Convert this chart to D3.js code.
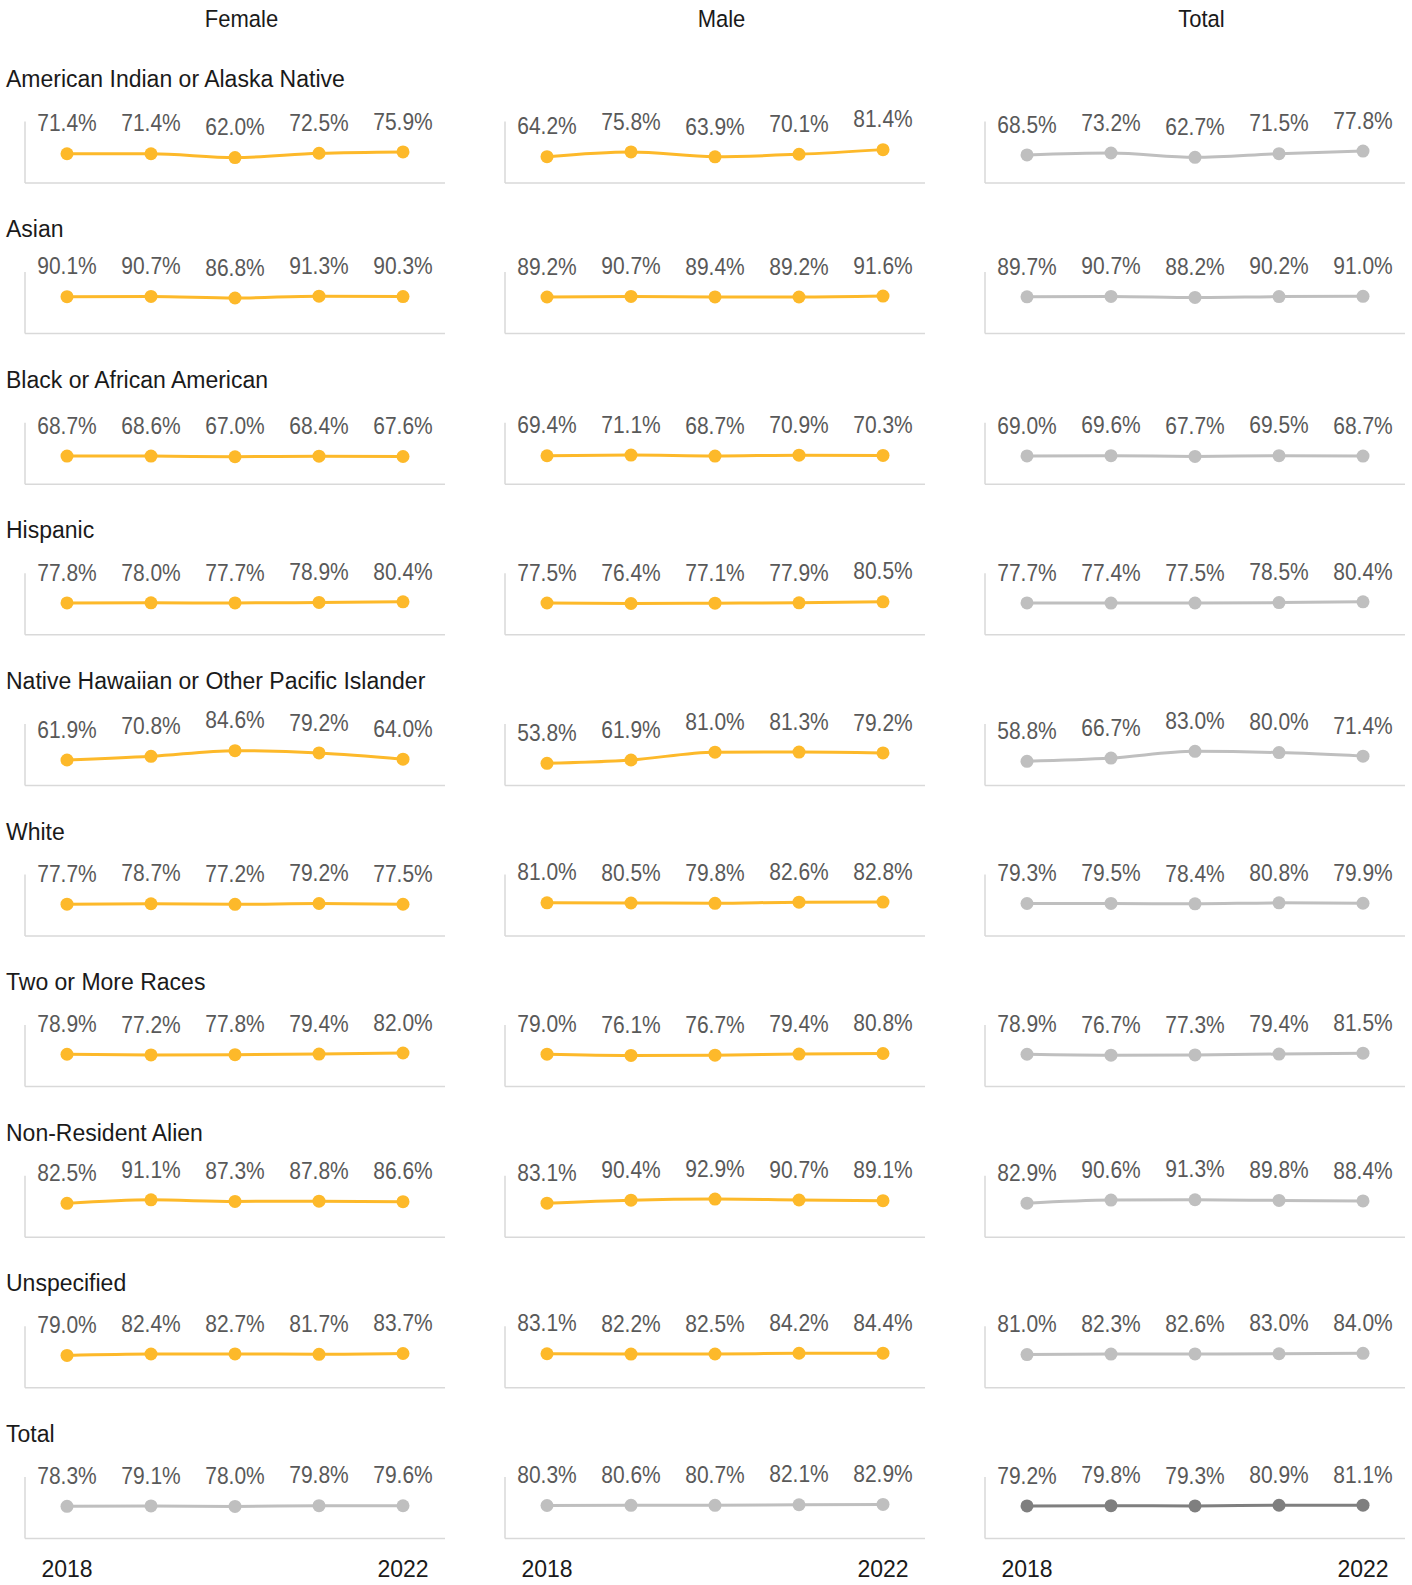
<!DOCTYPE html>
<html>
<head>
<meta charset="utf-8">
<script src="https://cdn.jsdelivr.net/npm/d3@7"></script>
<style>
  html, body { margin: 0; padding: 0; background: #fff; }
  svg { display: block; }
  text { font-family: "Liberation Sans", Arial, sans-serif; }
</style>
</head>
<body>
<svg id="chart" width="1412" height="1585"></svg>
<script>
// ---------- data ----------
const years = [2018, 2019, 2020, 2021, 2022];
const yearTicks = [2018, 2022];
const columns = ["Female", "Male", "Total"];
const categories = [
  "American Indian or Alaska Native",
  "Asian",
  "Black or African American",
  "Hispanic",
  "Native Hawaiian or Other Pacific Islander",
  "White",
  "Two or More Races",
  "Non-Resident Alien",
  "Unspecified",
  "Total"
];
const female = [
  [71.4, 71.4, 62.0, 72.5, 75.9],
  [90.1, 90.7, 86.8, 91.3, 90.3],
  [68.7, 68.6, 67.0, 68.4, 67.6],
  [77.8, 78.0, 77.7, 78.9, 80.4],
  [61.9, 70.8, 84.6, 79.2, 64.0],
  [77.7, 78.7, 77.2, 79.2, 77.5],
  [78.9, 77.2, 77.8, 79.4, 82.0],
  [82.5, 91.1, 87.3, 87.8, 86.6],
  [79.0, 82.4, 82.7, 81.7, 83.7],
  [78.3, 79.1, 78.0, 79.8, 79.6]
];
const male = [
  [64.2, 75.8, 63.9, 70.1, 81.4],
  [89.2, 90.7, 89.4, 89.2, 91.6],
  [69.4, 71.1, 68.7, 70.9, 70.3],
  [77.5, 76.4, 77.1, 77.9, 80.5],
  [53.8, 61.9, 81.0, 81.3, 79.2],
  [81.0, 80.5, 79.8, 82.6, 82.8],
  [79.0, 76.1, 76.7, 79.4, 80.8],
  [83.1, 90.4, 92.9, 90.7, 89.1],
  [83.1, 82.2, 82.5, 84.2, 84.4],
  [80.3, 80.6, 80.7, 82.1, 82.9]
];
const total = [
  [68.5, 73.2, 62.7, 71.5, 77.8],
  [89.7, 90.7, 88.2, 90.2, 91.0],
  [69.0, 69.6, 67.7, 69.5, 68.7],
  [77.7, 77.4, 77.5, 78.5, 80.4],
  [58.8, 66.7, 83.0, 80.0, 71.4],
  [79.3, 79.5, 78.4, 80.8, 79.9],
  [78.9, 76.7, 77.3, 79.4, 81.5],
  [82.9, 90.6, 91.3, 89.8, 88.4],
  [81.0, 82.3, 82.6, 83.0, 84.0],
  [79.2, 79.8, 79.3, 80.9, 81.1]
];
const seriesByColumn = [female, male, total];

// ---------- layout ----------
const colX0 = [25, 505, 985];
const panelW = 420;
const firstBaseline = 183;
const rowStep = 150.6;
const plotH = 61.5;
const ORANGE = "#FDB92A", GRAY = "#BFBFBF", DARK = "#7F7F7F", AXIS = "#D9D9D9";

const svg = d3.select("#chart");

// column headers
columns.forEach((c, ci) => {
  svg.append("text")
    .attr("transform", `translate(${colX0[ci] + 216.5},26.5) scale(1,1.08)`)
    .attr("text-anchor", "middle")
    .attr("font-size", 22)
    .attr("fill", "#1a1a1a")
    .text(c);
});

const yScale = d3.scaleLinear().domain([0, 150]).range([plotH, 0]);

categories.forEach((cat, ri) => {
  const base = firstBaseline + ri * rowStep;
  // row title
  svg.append("text")
    .attr("x", 6)
    .attr("y", base - 96.5)
    .attr("font-size", 23)
    .attr("fill", "#1a1a1a")
    .text(cat);

  columns.forEach((col, ci) => {
    const x = d3.scalePoint().domain(years).range([colX0[ci], colX0[ci] + panelW]).padding(0.5);
    const g = svg.append("g").attr("transform", `translate(0,${base - plotH})`);
    const vals = seriesByColumn[ci][ri];
    const isTotalRow = ri === categories.length - 1;
    const isTotalCol = ci === 2;
    const color = (isTotalRow && isTotalCol) ? DARK : (isTotalRow || isTotalCol) ? GRAY : ORANGE;

    // axes
    g.append("line")
      .attr("x1", colX0[ci]).attr("x2", colX0[ci] + panelW)
      .attr("y1", plotH).attr("y2", plotH)
      .attr("stroke", AXIS).attr("stroke-width", 1.5);
    g.append("line")
      .attr("x1", colX0[ci]).attr("x2", colX0[ci])
      .attr("y1", 0).attr("y2", plotH)
      .attr("stroke", AXIS).attr("stroke-width", 1.5);

    const data = years.map((yr, i) => ({ yr, v: vals[i] }));
    const line = d3.line().x(d => x(d.yr)).y(d => yScale(d.v)).curve(d3.curveMonotoneX);
    g.append("path").datum(data)
      .attr("d", line)
      .attr("fill", "none")
      .attr("stroke", color)
      .attr("stroke-width", 3);
    g.selectAll("circle.pt").data(data).enter().append("circle")
      .attr("cx", d => x(d.yr)).attr("cy", d => yScale(d.v))
      .attr("r", 6.5).attr("fill", color);
    g.selectAll("text.lbl").data(data).enter().append("text")
      .attr("transform", d => `translate(${x(d.yr)},${yScale(d.v) - 22.3}) scale(1,1.1)`)
      .attr("text-anchor", "middle")
      .attr("font-size", 21)
      .attr("fill", "#595959")
      .text(d => d.v.toFixed(1) + "%");

    if (isTotalRow) {
      g.selectAll("text.yr").data(yearTicks).enter().append("text")
        .attr("x", d => x(d)).attr("y", plotH + 38.3)
        .attr("text-anchor", "middle")
        .attr("font-size", 23)
        .attr("fill", "#1a1a1a")
        .text(d => d);
    }
  });
});
</script>
</body>
</html>
